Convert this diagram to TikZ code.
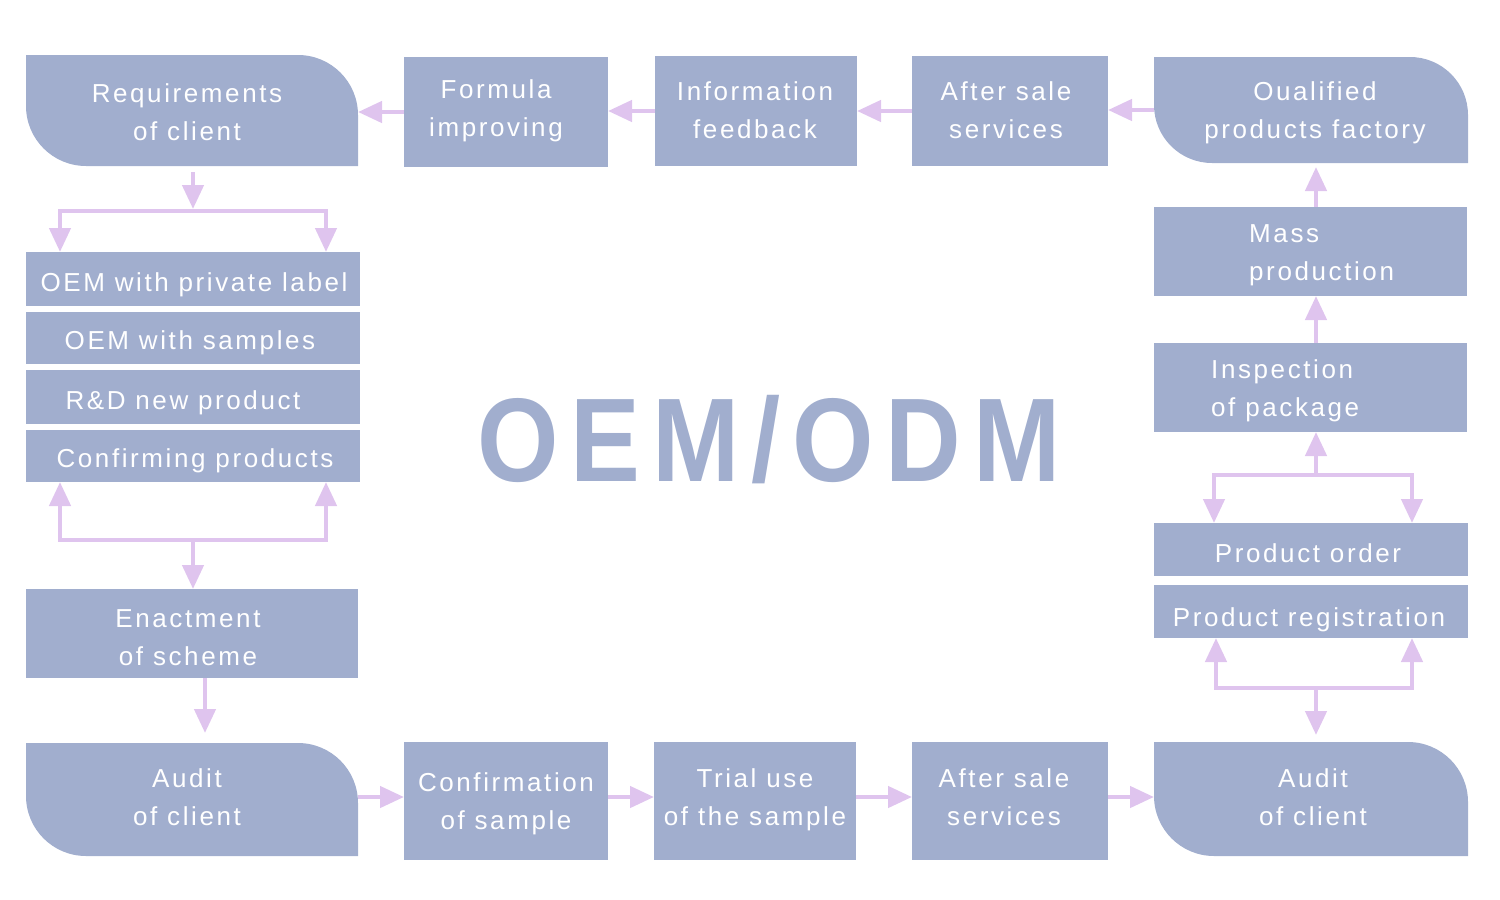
\documentclass[tikz,border=0pt]{standalone}
\usepackage{fontspec}
\setmainfont{Liberation Sans}[LetterSpace=10]
\newfontfamily\bigfont{Liberation Sans}[LetterSpace=10,FakeStretch=0.88]
\usetikzlibrary{arrows.meta}
\definecolor{boxc}{HTML}{A1AECE}
\definecolor{arrc}{HTML}{DFC4EE}
\tikzset{
  boxsty/.style={fill=boxc, inner sep=0, outer sep=0, anchor=north west},
  shapesty/.style={inner sep=0, outer sep=0, anchor=north west},
  txt/.style={text=white, font=\fontsize{26}{38}\selectfont, align=center, anchor=base, inner sep=0},
  txtl/.style={txt, align=left, anchor=base west},
  conn/.style={draw=arrc, line width=4.5pt},
  tipsty/.tip={Triangle[length=24pt,width=21pt]},
  arr/.style={conn, -tipsty},
  barr/.style={conn, tipsty-tipsty},
}
\newcommand\plainbox[5]{%
  \node[boxsty, minimum width={#4-#2}, minimum height={#5-#3}] (#1) at (#2,-#3) {};}
\newcommand\roundbox[6]{%
  \node[shapesty, minimum width={#4-#2}, minimum height={#5-#3}] (#1) at (#2,-#3) {};
  \fill[boxc] (#1.north west) -- ([xshift=-#6pt]#1.north east)
    arc[start angle=90,end angle=0,radius=#6pt] -- (#1.south east)
    -- ([xshift=#6pt]#1.south west)
    arc[start angle=270,end angle=180,radius=#6pt] -- cycle;}
\begin{document}
\begin{tikzpicture}[x=1pt,y=1pt]
\useasboundingbox (0,0) rectangle (1500,-900);
% boxes
\roundbox{req}{26}{55}{358}{166}{60}
\plainbox{form}{404}{57}{608}{167}
\plainbox{info}{655}{56}{857}{166}
\plainbox{asa}{912}{56}{1108}{166}
\roundbox{qual}{1154}{57}{1468}{163}{58}
\plainbox{mass}{1154}{207}{1467}{296}
\plainbox{insp}{1154}{343}{1467}{432}
\plainbox{order}{1154}{523}{1468}{576}
\plainbox{reg}{1154}{585}{1468}{638}
\roundbox{audb}{1154}{742}{1468}{856}{60}
\plainbox{asb}{912}{742}{1108}{860}
\plainbox{trial}{654}{742}{856}{860}
\plainbox{conf}{404}{742}{608}{860}
\roundbox{auda}{26}{743}{358}{856}{60}
\plainbox{enact}{26}{589}{358}{678}
\plainbox{oema}{26}{252}{360}{306}
\plainbox{oemb}{26}{312}{360}{364}
\plainbox{rd}{26}{370}{360}{424}
\plainbox{confp}{26}{430}{360}{482}
% texts (base = baseline of last line)
\node[txt] (treq) at (187,-140) {Requirements\\of client};
\node[txt] (tform) at (496,-136.5) {Formula\\improving};
\node[txt] (tinfo) at (755,-138.5) {Information\\feedback};
\node[txt] (tasa) at (1006,-138.5) {After sale\\services};
\node[txt] (tqual) at (1315,-138.5) {Oualified\\products factory};
\node[txtl] (tmass) at (1249,-280) {Mass\\production};
\node[txtl] (tinsp) at (1211,-416.5) {Inspection\\of package};
\node[txt] (torder) at (1308,-562.5) {Product order};
\node[txt] (treg) at (1309,-626.5) {Product registration};
\node[txt] (taudb) at (1313,-825.5) {Audit\\of client};
\node[txt] (tasb) at (1004,-825.5) {After sale\\services};
\node[txt] (ttrial) at (755,-825.5) {Trial use\\of the sample};
\node[txt] (tconf) at (506,-829.5) {Confirmation\\of sample};
\node[txt] (tauda) at (187,-825.5) {Audit\\of client};
\node[txt] (tenact) at (188,-665.5) {Enactment\\of scheme};
\node[txt] (toema) at (194,-291) {OEM with private label};
\node[txt] (toemb) at (190,-349.5) {OEM with samples};
\node[txt] (trd) at (183,-409.5) {R\&D new product};
\node[txt] (tconfp) at (195,-467.5) {Confirming products};
\node[text=boxc, font={\bigfont\bfseries\fontsize{119}{119}\selectfont}, anchor=base, inner sep=0] (title) at (769,-481) {OEM/ODM};
% coordinates
\coordinate (rc) at (1316,0);
\coordinate (tb) at (1316,-475);
\coordinate (tbL) at (1214,-475);
\coordinate (tbR) at (1412,-475);
\coordinate (bb) at (1316,-688);
\coordinate (bbL) at (1216,-688);
\coordinate (bbR) at (1412,-688);
\coordinate (lc) at (193,0);
\coordinate (lb) at (193,-209);
\coordinate (lbL) at (60,-211);
\coordinate (lbR) at (326,-211);
\coordinate (mb) at (193,-540);
\coordinate (mbL) at (60,-540);
\coordinate (mbR) at (326,-540);
\coordinate (ec) at (205,0);
\coordinate (br) at (0,-797);
% top row
\draw[arr] (form.west) -- (form.west -| req.east);
\draw[arr] (info.west) -- (info.west -| form.east);
\draw[arr] (asa.west) -- (asa.west -| info.east);
\draw[arr] (qual.west) -- (qual.west -| asa.east);
% right column
\draw[arr, shorten >=4pt] (mass.north -| rc) -- (qual.south -| rc);
\draw[arr] (insp.north -| rc) -- (mass.south -| rc);
\draw[arr] (tb) -- (insp.south -| rc);
\draw[barr] (tbL |- order.north) -- (tbL) -- (tbR) -- (tbR |- order.north);
\draw[barr] (bbL |- reg.south) -- (bbL) -- (bbR) -- (bbR |- reg.south);
\draw[arr, shorten >=7pt] (bb) -- (audb.north -| bb);
% left column
\draw[arr, shorten <=6pt] (req.south -| lc) -- (lb);
\draw[barr] (lbL |- oema.north) -- (lbL) -- (lbR) -- (lbR |- oema.north);
\draw[barr] (mbL |- confp.south) -- (mbL) -- (mbR) -- (mbR |- confp.south);
\draw[arr] (mb) -- (enact.north -| mb);
\draw[arr, shorten >=10pt] (enact.south -| ec) -- (auda.north -| ec);
% bottom row
\draw[arr] (auda.east |- br) -- (conf.west |- br);
\draw[arr] (conf.east |- br) -- (trial.west |- br);
\draw[arr] (trial.east |- br) -- (asb.west |- br);
\draw[arr] (asb.east |- br) -- (audb.west |- br);
\end{tikzpicture}
\end{document}
